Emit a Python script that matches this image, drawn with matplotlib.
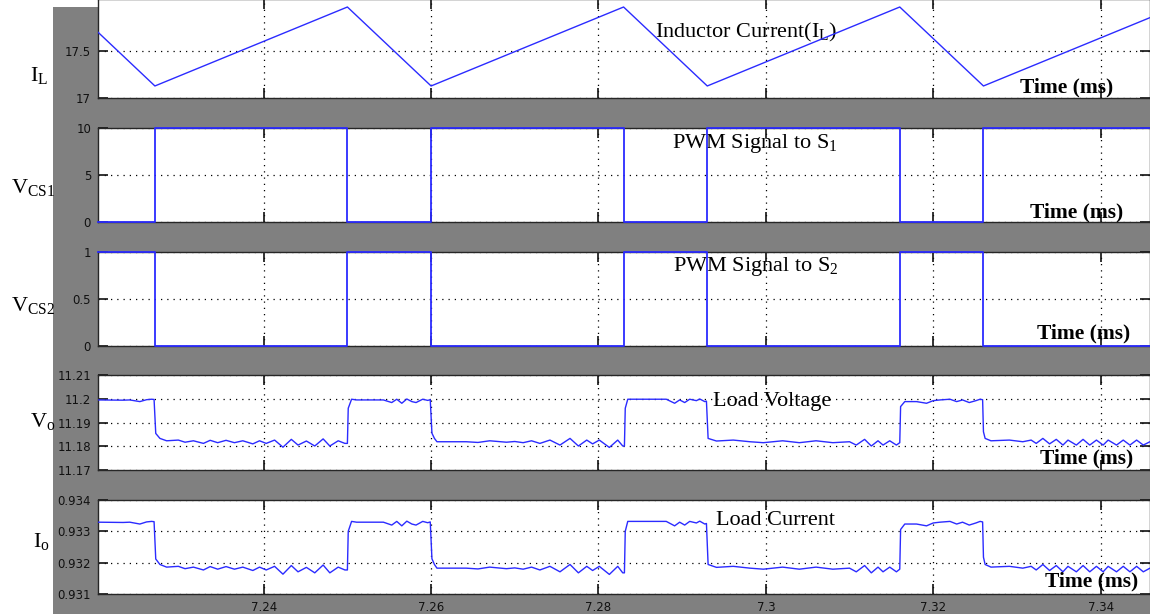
import matplotlib
matplotlib.use('Agg')
import matplotlib.pyplot as plt
from matplotlib.patches import Rectangle

plt.rcParams['mathtext.fontset'] = 'custom'
plt.rcParams['mathtext.rm'] = 'Liberation Serif'
plt.rcParams['mathtext.it'] = 'Liberation Serif:italic'
plt.rcParams['mathtext.bf'] = 'Liberation Serif:bold'
plt.rcParams['font.family'] = ['DejaVu Sans']

# ============================================================
# 数据 (从图中读取, 时间单位 ms)
# ============================================================
x_ticks = [7.24, 7.26, 7.28, 7.30, 7.32, 7.34]
x_tick_labels = ['7.24', '7.26', '7.28', '7.3', '7.32', '7.34']

# 电感电流 (峰/谷点)
il_t = [7.2202, 7.2270, 7.2500, 7.2600, 7.2830, 7.2930, 7.3160, 7.3260, 7.3459]
il_v = [17.70, 17.128, 17.968, 17.128, 17.968, 17.128, 17.968, 17.128, 17.855]

# PWM 信号 (阶梯)
pwm_t = [7.2202, 7.2270, 7.2500, 7.2600, 7.2830, 7.2930, 7.3160, 7.3260, 7.3460]
pwm_s1 = [0, 10, 0, 10, 0, 10, 0, 10, 10]
pwm_s2 = [1, 0, 1, 0, 1, 0, 1, 0, 0]

# 负载电压 / 负载电流 (共用时间轴)
load_t = [
    7.2202, 7.2232, 7.2240, 7.2252, 7.2260, 7.2266, 7.2269,
    7.2271, 7.2276, 7.2284, 7.2298, 7.2306, 7.2316, 7.2328, 7.2336, 7.2345, 7.2355,
    7.2365, 7.2375, 7.2387, 7.2395, 7.2403, 7.2413, 7.2423, 7.2433, 7.2441, 7.2451,
    7.2461, 7.2471, 7.2479, 7.2489, 7.2497, 7.2500,
    7.2501, 7.2505, 7.2511, 7.2531, 7.2543, 7.2553, 7.2559, 7.2565, 7.2571, 7.2577,
    7.2582, 7.2590, 7.2596, 7.2599,
    7.2601, 7.2604, 7.2607, 7.2642, 7.2656, 7.2670, 7.2680, 7.2690, 7.2700, 7.2710,
    7.2720, 7.2730, 7.2742, 7.2754, 7.2766, 7.2776, 7.2786, 7.2793, 7.2801, 7.2813,
    7.2823, 7.2829, 7.2831,
    7.2832, 7.2835, 7.2845, 7.2881, 7.2891, 7.2897, 7.2903, 7.2909, 7.2917, 7.2921,
    7.2927, 7.2929,
    7.2931, 7.2941, 7.2961, 7.2981, 7.2997, 7.3020, 7.3040, 7.3060, 7.3080, 7.3100,
    7.3108, 7.3118, 7.3126, 7.3134, 7.3140, 7.3148, 7.3156, 7.3160,
    7.3161, 7.3166, 7.3180, 7.3192, 7.3200, 7.3208, 7.3220, 7.3228, 7.3235, 7.3243,
    7.3251, 7.3256, 7.3259,
    7.3260, 7.3262, 7.3269, 7.3291, 7.3307, 7.3317, 7.3323, 7.3331, 7.3339, 7.3347,
    7.3355, 7.3361, 7.3371, 7.3379, 7.3387, 7.3395, 7.3403, 7.3409, 7.3419, 7.3427,
    7.3435, 7.3443, 7.3451, 7.3459,
]
vo = [
    11.1995, 11.1994, 11.1995, 11.1988, 11.1996, 11.1998, 11.1997,
    11.1854, 11.1833, 11.1823, 11.1826, 11.1817, 11.1823, 11.1812, 11.1825, 11.1815, 11.1825,
    11.1815, 11.1823, 11.1810, 11.1823, 11.1812, 11.1826, 11.1796, 11.1829, 11.1805, 11.1822,
    11.1801, 11.1831, 11.1801, 11.1823, 11.1812, 11.1812,
    11.1960, 11.1998, 11.1995, 11.1995, 11.1995, 11.1984, 11.1998, 11.1981, 11.1999, 11.1988,
    11.1984, 11.1998, 11.1993, 11.1996,
    11.1855, 11.1833, 11.1819, 11.1819, 11.1816, 11.1823, 11.1820, 11.1817, 11.1820, 11.1815,
    11.1823, 11.1812, 11.1826, 11.1805, 11.1833, 11.1801, 11.1826, 11.1810, 11.1826, 11.1795,
    11.1826, 11.1801, 11.1801,
    11.1960, 11.1998, 11.1998, 11.1998, 11.1981, 11.1995, 11.1984, 11.1998, 11.1992, 11.1999,
    11.1988, 11.1990,
    11.1833, 11.1822, 11.1826, 11.1819, 11.1815, 11.1823, 11.1815, 11.1823, 11.1815, 11.1819,
    11.1805, 11.1829, 11.1801, 11.1823, 11.1805, 11.1823, 11.1805, 11.1815,
    11.1967, 11.1988, 11.1988, 11.1981, 11.1992, 11.1995, 11.1998, 11.1988, 11.1995, 11.1984,
    11.1992, 11.1998, 11.1996,
    11.1861, 11.1833, 11.1823, 11.1826, 11.1819, 11.1826, 11.1812, 11.1833, 11.1810, 11.1829,
    11.1805, 11.1826, 11.1805, 11.1829, 11.1805, 11.1826, 11.1805, 11.1826, 11.1805, 11.1826,
    11.1805, 11.1826, 11.1805, 11.1819,
]
io = [
    0.933292, 0.933283, 0.933292, 0.933233, 0.933300, 0.933317, 0.933308,
    0.932117, 0.931942, 0.931858, 0.931883, 0.931808, 0.931858, 0.931767, 0.931875, 0.931792, 0.931875,
    0.931792, 0.931858, 0.931750, 0.931858, 0.931767, 0.931883, 0.931633, 0.931908, 0.931708, 0.931850,
    0.931675, 0.931925, 0.931675, 0.931858, 0.931767, 0.931767,
    0.933000, 0.933317, 0.933292, 0.933292, 0.933292, 0.933200, 0.933317, 0.933175, 0.933325, 0.933233,
    0.933200, 0.933317, 0.933275, 0.933300,
    0.932125, 0.931942, 0.931825, 0.931825, 0.931800, 0.931858, 0.931833, 0.931808, 0.931833, 0.931792,
    0.931858, 0.931767, 0.931883, 0.931708, 0.931942, 0.931675, 0.931883, 0.931750, 0.931883, 0.931625,
    0.931883, 0.931675, 0.931675,
    0.933000, 0.933317, 0.933317, 0.933317, 0.933175, 0.933292, 0.933200, 0.933317, 0.933267, 0.933325,
    0.933233, 0.933250,
    0.931942, 0.931850, 0.931883, 0.931825, 0.931792, 0.931858, 0.931792, 0.931858, 0.931792, 0.931825,
    0.931708, 0.931908, 0.931675, 0.931858, 0.931708, 0.931858, 0.931708, 0.931792,
    0.933058, 0.933233, 0.933233, 0.933175, 0.933267, 0.933292, 0.933317, 0.933233, 0.933292, 0.933200,
    0.933267, 0.933317, 0.933300,
    0.932175, 0.931942, 0.931858, 0.931883, 0.931825, 0.931883, 0.931767, 0.931942, 0.931750, 0.931908,
    0.931708, 0.931883, 0.931708, 0.931908, 0.931708, 0.931883, 0.931708, 0.931883, 0.931708, 0.931883,
    0.931708, 0.931883, 0.931708, 0.931825,
]

# 各子图: y范围, y刻度, 刻度标签, 左侧标签, 标题
panel_ylim = [(17, 18.05), (0, 10), (0, 1), (11.17, 11.21), (0.931, 0.934)]
panel_yticks = [[17, 17.5], [0, 5, 10], [0, 0.5, 1],
                [11.17, 11.18, 11.19, 11.20, 11.21], [0.931, 0.932, 0.933, 0.934]]
panel_yticklabels = [['17', '17.5'], ['0', '5', '10'], ['0', '0.5', '1'],
                     ['11.17', '11.18', '11.19', '11.2', '11.21'],
                     ['0.931', '0.932', '0.933', '0.934']]
panel_ylabels = [r'I$_\mathrm{L}$', r'V$_\mathrm{CS1}$', r'V$_\mathrm{CS2}$',
                 r'V$_\mathrm{o}$', r'I$_\mathrm{o}$']
panel_titles = [r'Inductor Current(I$_\mathrm{L}$)', r'PWM Signal to S$_\mathrm{1}$',
                r'PWM Signal to S$_\mathrm{2}$', 'Load Voltage', 'Load Current']

# ============================================================
# 布局 (像素 -> 图坐标)
# ============================================================
W, H = 1150, 614
fig = plt.figure(figsize=(W / 100, H / 100), dpi=100)
fig.patch.set_facecolor('white')
fig.patches.append(Rectangle((53 / W, 0), 1 - 53 / W, (H - 7) / H,
                             transform=fig.transFigure, facecolor='#808080',
                             edgecolor='none', zorder=-10))

# (顶部像素, 底部像素)
panel_px = [(-0.7, 98), (128, 222), (252, 346), (375, 470), (500, 594)]
title_pos = [(0.5295, 0.66), (0.5456, 0.84), (0.5466, 0.85), (0.5846, 0.716), (0.5875, 0.777)]
time_pos = [(0.8764, 0.11), (0.886, 0.106), (0.8926, 0.138), (0.8954, 0.126), (0.9002, 0.138)]
ylabel_pos = [(30, 76), (11, 187), (11, 305), (30, 421), (33, 542)]

left = 98 / W
width = 1 - left
line_col = '#2b2bff'
axes = []
for i, (top, bot) in enumerate(panel_px):
    ax = fig.add_axes([left, (H - bot) / H, width, (bot - top) / H])
    axes.append(ax)
    ax.set_facecolor('white')
    ax.set_xlim(il_t[0], il_t[-1])
    ax.set_ylim(*panel_ylim[i])
    ax.set_xticks(x_ticks)
    ax.set_yticks(panel_yticks[i])
    ax.set_yticklabels(panel_yticklabels[i])
    if i == 4:
        ax.set_xticklabels(x_tick_labels)
    else:
        ax.set_xticklabels([])
    ax.tick_params(direction='in', length=7.5, width=1.2, top=True, right=True,
                   labelsize=8.5, pad=5, colors='#111111')
    for sp in ax.spines.values():
        sp.set_color('#262626')
        sp.set_linewidth(1.0)
    ax.grid(True, color='black', linestyle=(0, (1, 4)), linewidth=0.9)
    ax.set_axisbelow(True)

    ax.text(*title_pos[i], panel_titles[i], transform=ax.transAxes,
            family='Liberation Serif', fontsize=16, va='center', ha='left')
    ax.text(*time_pos[i], 'Time (ms)', transform=ax.transAxes,
            family='Liberation Serif', fontsize=15.5, fontweight='bold',
            va='center', ha='left', zorder=5)
    fig.text(ylabel_pos[i][0] / W, 1 - ylabel_pos[i][1] / H, panel_ylabels[i],
             family='Liberation Serif', fontsize=16, va='center', ha='left')

axes[0].plot(il_t, il_v, color=line_col, lw=1.0, zorder=3)
axes[1].plot(pwm_t, pwm_s1, color=line_col, lw=1.3, drawstyle='steps-post',
             clip_on=False, zorder=3)
axes[2].plot(pwm_t, pwm_s2, color=line_col, lw=1.3, drawstyle='steps-post',
             clip_on=False, zorder=3)
axes[3].plot(load_t, vo, color=line_col, lw=1.0, zorder=3)
axes[4].plot(load_t, io, color=line_col, lw=1.0, zorder=3)

plt.savefig('out.png', dpi=100)
